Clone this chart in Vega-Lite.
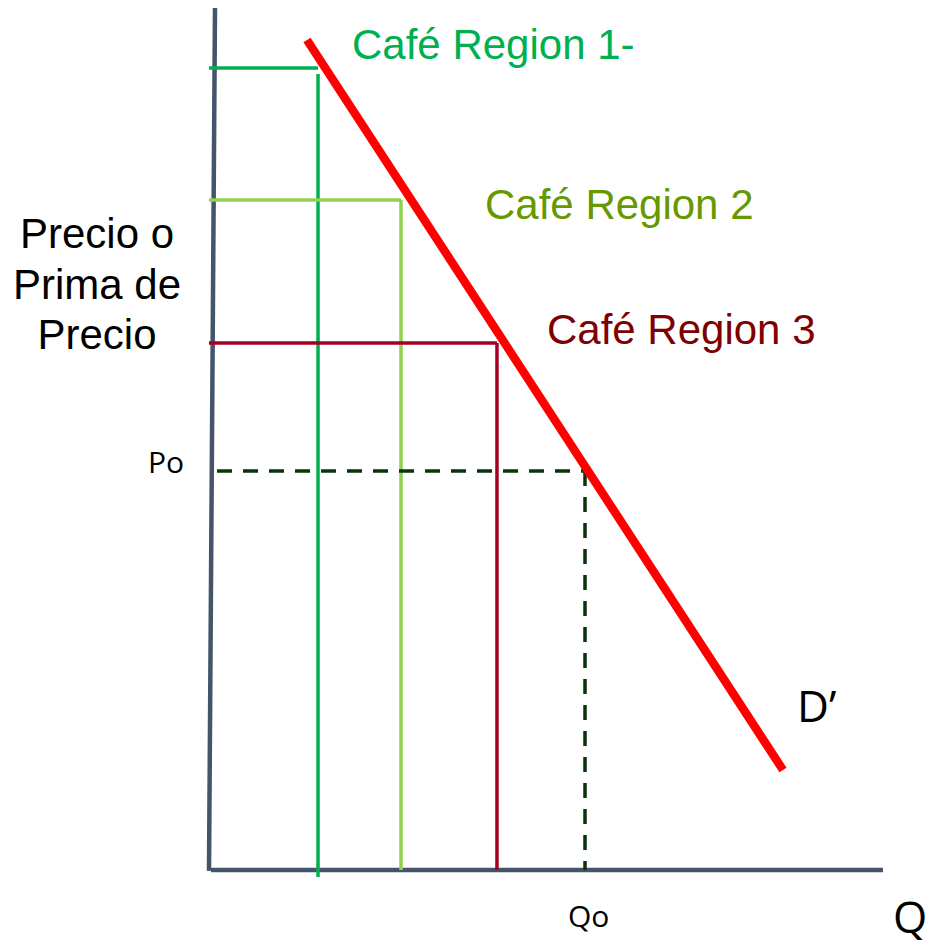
{
  "$schema": "https://vega.github.io/schema/vega-lite/v6.json",
  "width": 932,
  "height": 946,
  "autosize": "none",
  "padding": 0,
  "background": "white",
  "config": {"view": {"stroke": null}},
  "datasets": {
    "segments": [
      {"part": "axis", "x": 0.89, "y": 100, "x2": 0, "y2": -0.1},
      {"part": "axis", "x": 0.3, "y": 0, "x2": 100.15, "y2": 0},
      {"part": "region1", "x": 0, "y": 93.04, "x2": 16.2, "y2": 93.04},
      {"part": "region1", "x": 16.2, "y": 92.34, "x2": 16.2, "y2": -0.81},
      {"part": "region2", "x": 0, "y": 77.73, "x2": 28.53, "y2": 77.73},
      {"part": "region2", "x": 28.53, "y": 77.73, "x2": 28.53, "y2": 0},
      {"part": "region3", "x": 0, "y": 61.14, "x2": 42.79, "y2": 61.14},
      {"part": "region3", "x": 42.79, "y": 61.14, "x2": 42.79, "y2": 0},
      {"part": "equilibrium", "x": 1.19, "y": 46.29, "x2": 55.87, "y2": 46.29},
      {"part": "equilibrium", "x": 55.87, "y": 46.29, "x2": 55.87, "y2": 0},
      {"part": "demand", "x": 14.56, "y": 96.29, "x2": 85.29, "y2": 11.6}
    ],
    "labels": [
      {"label": "Café Region 1-", "group": "r1", "x": 21.25, "y": 94.08},
      {"label": "Café Region 2", "group": "r2", "x": 41.01, "y": 75.52},
      {"label": "Café Region 3", "group": "r3", "x": 50.22, "y": 61.02},
      {"label": "Precio o", "group": "ylabel", "x": -16.64, "y": 72.16},
      {"label": "Prima de", "group": "ylabel", "x": -16.64, "y": 66.24},
      {"label": "Precio", "group": "ylabel", "x": -16.64, "y": 60.44},
      {"label": "Po", "group": "small", "x": -9.06, "y": 46.06},
      {"label": "Qo", "group": "small", "x": 53.34, "y": -6.61},
      {"label": "D’", "group": "big", "x": 87.37, "y": 17.17},
      {"label": "Q", "group": "big", "x": 101.63, "y": -7.3}
    ]
  },
  "encoding": {
    "x": {"field": "x", "type": "quantitative", "scale": {"domain": [-31.055, 107.43], "nice": false, "zero": false}, "axis": null},
    "y": {"field": "y", "type": "quantitative", "scale": {"domain": [-8.817, 100.93], "nice": false, "zero": false}, "axis": null}
  },
  "layer": [
    {
      "data": {"name": "segments"},
      "transform": [{"filter": "datum.part === 'axis'"}],
      "mark": {"type": "rule", "strokeCap": "butt", "color": "#44546A", "strokeWidth": 4.5},
      "encoding": {"x2": {"field": "x2"}, "y2": {"field": "y2"}}
    },
    {
      "data": {"name": "segments"},
      "transform": [{"filter": "datum.part === 'region1'"}],
      "mark": {"type": "rule", "strokeCap": "butt", "color": "#00B050", "strokeWidth": 3.5},
      "encoding": {"x2": {"field": "x2"}, "y2": {"field": "y2"}}
    },
    {
      "data": {"name": "segments"},
      "transform": [{"filter": "datum.part === 'region2'"}],
      "mark": {"type": "rule", "strokeCap": "butt", "color": "#92D050", "strokeWidth": 3.5},
      "encoding": {"x2": {"field": "x2"}, "y2": {"field": "y2"}}
    },
    {
      "data": {"name": "segments"},
      "transform": [{"filter": "datum.part === 'region3'"}],
      "mark": {"type": "rule", "strokeCap": "butt", "color": "#A50021", "strokeWidth": 3.5},
      "encoding": {"x2": {"field": "x2"}, "y2": {"field": "y2"}}
    },
    {
      "data": {"name": "segments"},
      "transform": [{"filter": "datum.part === 'equilibrium'"}],
      "mark": {"type": "rule", "strokeCap": "butt", "color": "#0A330A", "strokeWidth": 3.5, "strokeDash": [15, 11]},
      "encoding": {"x2": {"field": "x2"}, "y2": {"field": "y2"}}
    },
    {
      "data": {"name": "segments"},
      "transform": [{"filter": "datum.part === 'demand'"}],
      "mark": {"type": "rule", "strokeCap": "butt", "color": "#FF0000", "strokeWidth": 8.5},
      "encoding": {"x2": {"field": "x2"}, "y2": {"field": "y2"}}
    },
    {
      "data": {"name": "labels"},
      "transform": [{"filter": "datum.group === 'r1'"}],
      "mark": {"type": "text", "font": "Liberation Sans", "fontSize": 42, "baseline": "alphabetic", "align": "left", "color": "#00B050"},
      "encoding": {"text": {"field": "label"}}
    },
    {
      "data": {"name": "labels"},
      "transform": [{"filter": "datum.group === 'r2'"}],
      "mark": {"type": "text", "font": "Liberation Sans", "fontSize": 42, "baseline": "alphabetic", "align": "left", "color": "#669900"},
      "encoding": {"text": {"field": "label"}}
    },
    {
      "data": {"name": "labels"},
      "transform": [{"filter": "datum.group === 'r3'"}],
      "mark": {"type": "text", "font": "Liberation Sans", "fontSize": 42, "baseline": "alphabetic", "align": "left", "color": "#7F0000"},
      "encoding": {"text": {"field": "label"}}
    },
    {
      "data": {"name": "labels"},
      "transform": [{"filter": "datum.group === 'ylabel'"}],
      "mark": {"type": "text", "font": "Liberation Sans", "fontSize": 42, "baseline": "alphabetic", "align": "center", "color": "#000000"},
      "encoding": {"text": {"field": "label"}}
    },
    {
      "data": {"name": "labels"},
      "transform": [{"filter": "datum.group === 'small'"}],
      "mark": {"type": "text", "font": "Open Sans", "fontSize": 30, "baseline": "alphabetic", "align": "left", "color": "#000000"},
      "encoding": {"text": {"field": "label"}}
    },
    {
      "data": {"name": "labels"},
      "transform": [{"filter": "datum.group === 'big'"}],
      "mark": {"type": "text", "font": "Open Sans", "fontSize": 44, "baseline": "alphabetic", "align": "left", "color": "#000000"},
      "encoding": {"text": {"field": "label"}}
    }
  ]
}
